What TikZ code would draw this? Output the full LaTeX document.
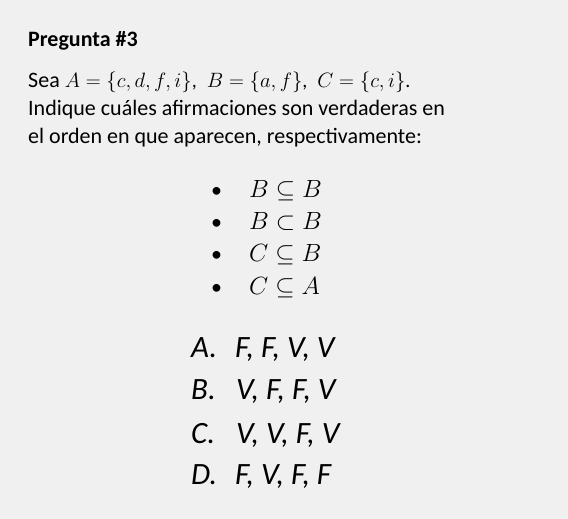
\documentclass[tikz,border=0pt]{standalone}
\usepackage{fontspec}
\usepackage{amsmath}
\setmainfont{Carlito}
\definecolor{slidebg}{HTML}{F0F0F0}

\begin{document}
\begin{tikzpicture}[x = 1pt, y = -1pt]
        \tikzstyle{line} = [anchor = base west, inner sep = 0pt, font = \fontsize{22}{26}\selectfont]
        \tikzstyle{item} = [anchor = base west, inner sep = 0pt, font = \fontsize{23.5}{28}\selectfont]
        \tikzstyle{answer} = [anchor = base west, inner sep = 0pt, font = \fontsize{31}{36}\selectfont\itshape]
        \fill[slidebg] (0, 0) rectangle (568, 519);
        \useasboundingbox (0, 0) rectangle (568, 519);
        \node[line] (title) at (28, 47) {\bfseries Pregunta \#3};
        \node[line] (L-1) at (28, 88) {Sea {\fontsize{20}{24}\selectfont$A=\{c,d,f,i\}$,\enspace$B=\{a,f\}$,\enspace$C=\{c,i\}$.}};
        \node[line] (L-2) at (28, 115) {Indique cuáles afirmaciones son verdaderas en};
        \node[line] (L-3) at (28, 143) {el orden en que aparecen, respectivamente:};
        \node[line] (dot-1) at (211, 197) {\textbullet};
        \node[line] (dot-2) at (211, 229) {\textbullet};
        \node[line] (dot-3) at (211, 261) {\textbullet};
        \node[line] (dot-4) at (211, 294) {\textbullet};
        \node[item] (S-1) at (249, 197) {$B\subseteq B$};
        \node[item] (S-2) at (249, 229) {$B\subset B$};
        \node[item] (S-3) at (249, 261) {$C\subseteq B$};
        \node[item] (S-4) at (249, 294) {$C\subseteq A$};
        \node[answer] (opt-A) at (191, 357) {A.};
        \node[answer] (opt-B) at (191, 399) {B.};
        \node[answer] (opt-C) at (191, 443) {C.};
        \node[answer] (opt-D) at (191, 484) {D.};
        \node[answer] (ans-A) at (235, 357) {F, F, V, V};
        \node[answer] (ans-B) at (236, 399) {V, F, F, V};
        \node[answer] (ans-C) at (236, 443) {V, V, F, V};
        \node[answer] (ans-D) at (235, 484) {F, V, F, F};
      \end{tikzpicture}
\end{document}
